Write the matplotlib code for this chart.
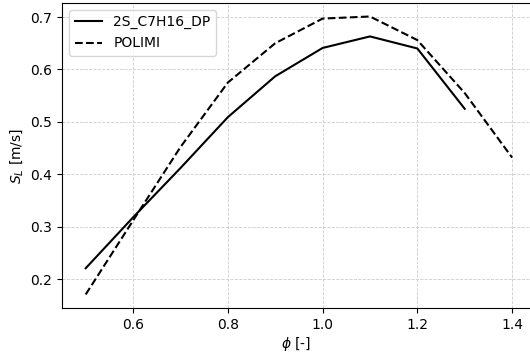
import matplotlib
matplotlib.use("Agg")
import matplotlib.pyplot as plt

phi_2s = [0.5, 0.6, 0.7, 0.8, 0.9, 1.0, 1.1, 1.2, 1.3]
sl_2s = [0.221, 0.318, 0.412, 0.509, 0.587, 0.641, 0.663, 0.640, 0.525]

phi_polimi = [0.5, 0.6, 0.7, 0.8, 0.9, 1.0, 1.1, 1.2, 1.3, 1.4]
sl_polimi = [0.171, 0.312, 0.452, 0.575, 0.650, 0.697, 0.701, 0.656, 0.555, 0.432]

fig = plt.figure(figsize=(5.3, 3.57), dpi=100)
ax = fig.add_axes([0.117, 0.137, 0.885, 0.855])

ax.plot(phi_2s, sl_2s, "k-", lw=1.5, label="2S_C7H16_DP")
ax.plot(phi_polimi, sl_polimi, "k--", lw=1.5, label="POLIMI")

ax.set_xlim(0.45, 1.44)
ax.set_ylim(0.145, 0.727)
ax.set_xlabel(r"$\phi$ [-]", labelpad=2)
ax.set_ylabel(r"$S_L$ [m/s]")
ax.grid(True, ls="--", lw=0.6, color="#cccccc")
ax.legend(loc="upper left")

fig.savefig("out.png", dpi=100)
